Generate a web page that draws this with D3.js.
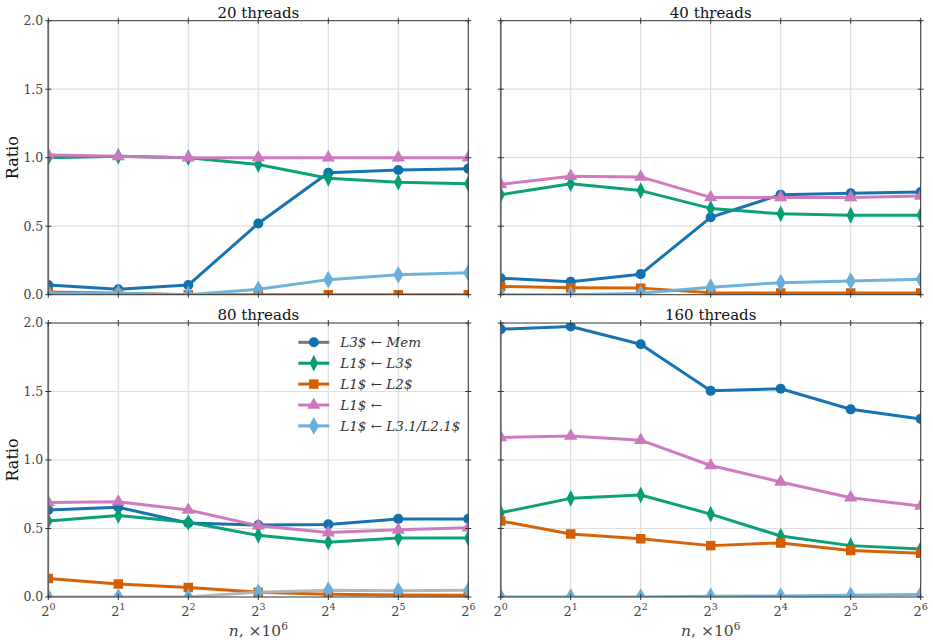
<!DOCTYPE html>
<html><head><meta charset="utf-8">
<script src="https://cdn.jsdelivr.net/npm/d3@7"></script>
<style>
body{margin:0;background:#fff;}
svg{display:block;font-family:"DejaVu Serif",serif;}
</style></head>
<body><svg id="c" width="933" height="640"></svg>
<script>
// ---- data ----
const panelTitles = ["20 threads", "40 threads", "80 threads", "160 threads"];
const nValues = [1, 2, 4, 8, 16, 32, 64];
const tickExponents = ["0", "1", "2", "3", "4", "5", "6"];
const yTicks = [0, 0.5, 1.0, 1.5, 2.0];
const seriesNames = ["L3$ \u2190 Mem", "L1$ \u2190 L3$", "L1$ \u2190 L2$", "L1$ \u2190", "L1$ \u2190 L3.1/L2.1$"];
const seriesColors = ["#1170AE", "#049E73", "#D55E00", "#CC78BC", "#6AAFD9"];

const memT20 = [0.07, 0.04, 0.07, 0.52, 0.89, 0.91, 0.92];
const l3T20  = [1.00, 1.01, 1.00, 0.95, 0.85, 0.82, 0.81];
const l2T20  = [0.02, 0.01, 0.00, 0.00, 0.00, 0.00, 0.00];
const l1T20  = [1.02, 1.01, 1.00, 1.00, 1.00, 1.00, 1.00];
const l31T20 = [0.01, 0.01, 0.00, 0.04, 0.11, 0.145, 0.16];

const memT40 = [0.12, 0.095, 0.15, 0.565, 0.73, 0.74, 0.75];
const l3T40  = [0.73, 0.81, 0.76, 0.63, 0.59, 0.58, 0.58];
const l2T40  = [0.06, 0.05, 0.048, 0.015, 0.012, 0.012, 0.012];
const l1T40  = [0.805, 0.865, 0.86, 0.71, 0.71, 0.71, 0.72];
const l31T40 = [0.00, 0.00, 0.01, 0.055, 0.088, 0.10, 0.113];

const memT80 = [0.635, 0.655, 0.54, 0.525, 0.53, 0.57, 0.57];
const l3T80  = [0.555, 0.595, 0.545, 0.45, 0.40, 0.43, 0.43];
const l2T80  = [0.135, 0.095, 0.07, 0.035, 0.02, 0.015, 0.012];
const l1T80  = [0.69, 0.695, 0.635, 0.52, 0.47, 0.49, 0.505];
const l31T80 = [0.00, 0.00, 0.00, 0.035, 0.05, 0.045, 0.05];

const memT160 = [1.955, 1.975, 1.845, 1.505, 1.52, 1.37, 1.30];
const l3T160  = [0.615, 0.72, 0.745, 0.605, 0.445, 0.375, 0.35];
const l2T160  = [0.555, 0.46, 0.425, 0.375, 0.395, 0.34, 0.32];
const l1T160  = [1.165, 1.175, 1.145, 0.96, 0.84, 0.725, 0.665];
const l31T160 = [0.00, 0.00, 0.00, 0.005, 0.007, 0.012, 0.018];

const panelData = [
  [memT20, l3T20, l2T20, l1T20, l31T20],
  [memT40, l3T40, l2T40, l1T40, l31T40],
  [memT80, l3T80, l2T80, l1T80, l31T80],
  [memT160, l3T160, l2T160, l1T160, l31T160]
];

// ---- layout ----
const svg = d3.select("#c");
const W = 420, H = 274;
const lefts = [48.3, 500.7], tops = [20.7, 323];
const gridColor = "#dedede", spineColor = "#333";

const thinDiamond = {draw(ctx, size){ const h = Math.sqrt(size)*0.8, w = h*0.5;
  ctx.moveTo(0,-h); ctx.lineTo(w,0); ctx.lineTo(0,h); ctx.lineTo(-w,0); ctx.closePath(); }};
const symbols = [
  d3.symbol(d3.symbolCircle, 80),
  d3.symbol(thinDiamond, 110),
  d3.symbol(d3.symbolSquare, 90),
  d3.symbol(d3.symbolTriangle, 75),
  d3.symbol(d3.symbolDiamond, 90)
];

panelData.forEach((series, pi) => {
  const col = pi % 2, row = Math.floor(pi / 2);
  const g = svg.append("g").attr("transform", `translate(${lefts[col]},${tops[row]})`);
  const x = d3.scaleLog().base(2).domain([1, 64]).range([0, W]);
  const y = d3.scaleLinear().domain([0, 2]).range([H, 0]);

  const cid = "clip" + pi;
  g.append("clipPath").attr("id", cid).append("rect").attr("width", W).attr("height", H);

  // grid
  g.selectAll(".gx").data(nValues).join("line")
    .attr("x1", d => x(d)).attr("x2", d => x(d)).attr("y1", 0).attr("y2", H)
    .attr("stroke", gridColor).attr("stroke-width", 1.2);
  g.selectAll(".gy").data(yTicks.slice(1, 4)).join("line")
    .attr("y1", d => y(d)).attr("y2", d => y(d)).attr("x1", 0).attr("x2", W)
    .attr("stroke", gridColor).attr("stroke-width", 1.2);

  // series
  const plot = g.append("g").attr("clip-path", `url(#${cid})`);
  series.forEach((vals, si) => {
    const pts = vals.map((v, i) => [x(nValues[i]), y(v)]);
    let lc = seriesColors[si];
    if (pi === 2 && si === 4) lc = "#b4b4b4";
    plot.append("path").attr("d", d3.line()(pts)).attr("fill", "none")
      .attr("stroke", lc).attr("stroke-width", 3).attr("stroke-linejoin", "round").attr("opacity", 0.97);
    plot.selectAll(null).data(pts).join("path")
      .attr("d", symbols[si]()).attr("transform", d => `translate(${d[0]},${d[1]})`)
      .attr("fill", seriesColors[si]);
  });

  // spines
  g.append("rect").attr("width", W).attr("height", H).attr("fill", "none")
    .attr("stroke", spineColor).attr("stroke-width", 1);
  g.append("line").attr("x1", 0).attr("x2", 0).attr("y1", 0).attr("y2", H)
    .attr("stroke", "#666").attr("stroke-width", 1.6);

  // ticks (in/out) on all sides
  const tk = 3;
  nValues.forEach(n => {
    [0, H].forEach(yy => g.append("line").attr("x1", x(n)).attr("x2", x(n))
      .attr("y1", yy - tk).attr("y2", yy + tk).attr("stroke", spineColor).attr("stroke-width", 1));
  });
  yTicks.forEach(t => {
    [0, W].forEach(xx => g.append("line").attr("y1", y(t)).attr("y2", y(t))
      .attr("x1", xx - tk).attr("x2", xx + tk).attr("stroke", spineColor).attr("stroke-width", 1));
  });

  // y tick labels
  if (col === 0) {
    g.selectAll(".yl").data(yTicks).join("text")
      .attr("x", -5).attr("y", d => y(d)).attr("dy", "0.35em")
      .attr("text-anchor", "end").attr("font-size", 12.5).attr("fill", "#444")
      .text(d => d3.format(".1f")(d));
    g.append("text").attr("transform", `translate(-30,${H / 2}) rotate(-90)`)
      .attr("text-anchor", "middle").attr("font-size", 16).attr("fill", "#111").text("Ratio");
  }
  // x tick labels
  if (row === 1) {
    nValues.forEach((n, i) => {
      const t = g.append("text").attr("x", x(n)).attr("y", H + 19)
        .attr("text-anchor", "middle").attr("font-size", 13).attr("fill", "#444");
      t.append("tspan").text("2");
      t.append("tspan").attr("dy", -6).attr("font-size", 9.5).text(tickExponents[i]);
    });
    const xl = g.append("text").attr("x", W / 2).attr("y", H + 39).attr("text-anchor", "middle")
      .attr("font-size", 15.5).attr("fill", "#444");
    xl.append("tspan").attr("font-style", "italic").text("n");
    xl.append("tspan").text(", \u00d710");
    xl.append("tspan").attr("dy", -6).attr("font-size", 10.5).text("6");
  }
  // title
  g.append("text").attr("x", W / 2).attr("y", -3).attr("text-anchor", "middle")
    .attr("font-size", 15).attr("fill", "#111").text(panelTitles[pi]);

  // legend in 80 threads panel
  if (pi === 2) {
    const lg = g.append("g").attr("transform", "translate(250,19.3)");
    seriesNames.forEach((name, si) => {
      const e = lg.append("g").attr("transform", `translate(0,${si * 20.9})`);
      e.append("line").attr("x1", 0).attr("x2", 31).attr("stroke", si === 0 ? "#777" : seriesColors[si])
        .attr("stroke-width", 3);
      e.append("path").attr("d", symbols[si]()).attr("transform", "translate(15.5,0)").attr("fill", seriesColors[si]);
      const t = e.append("text").attr("x", 42).attr("dy", "0.35em").attr("font-size", 13.5).attr("fill", "#333");
      name.split(/(\u2190)/).forEach(part => {
        t.append("tspan").attr("font-style", part === "\u2190" ? "normal" : "italic").text(part);
      });
    });
  }
});
</script></body></html>
